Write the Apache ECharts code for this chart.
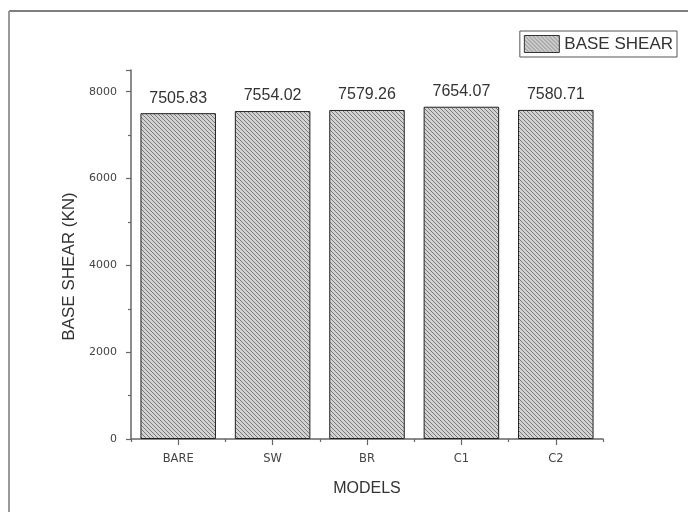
<!DOCTYPE html>
<html>
<head>
<meta charset="utf-8">
<script src="https://cdn.jsdelivr.net/npm/echarts@6/dist/echarts.min.js"></script>
<style>
html,body{margin:0;padding:0;background:#fff;}
#c{width:688px;height:512px;}
</style>
</head>
<body>
<div id="c"></div>
<script>
const categories = ['BARE', 'SW', 'BR', 'C1', 'C2'];
const baseShear = [7505.83, 7554.02, 7579.26, 7654.07, 7580.71];
const seriesName = 'BASE SHEAR';
const yTitle = 'BASE SHEAR (KN)';
const xTitle = 'MODELS';

function makeHatch() {
  const cv = document.createElement('canvas');
  cv.width = 4; cv.height = 4;
  const ctx = cv.getContext('2d');
  ctx.fillStyle = '#d2d2d2';
  ctx.fillRect(0, 0, 4, 4);
  ctx.fillStyle = '#7a7a7a';
  for (let i = 0; i < 4; i++) ctx.fillRect(i, i, 1, 1);
  return cv;
}
const hatch = { image: makeHatch(), repeat: 'repeat' };
const FONT = 'Liberation Sans';

const chart = echarts.init(document.getElementById('c'), null, { renderer: 'canvas' });
chart.setOption({
  backgroundColor: '#ffffff',
  animation: false,
  textStyle: { fontFamily: FONT },
  graphic: [
    { type: 'line', shape: { x1: 9, y1: 11, x2: 688, y2: 11 }, style: { stroke: '#555', lineWidth: 1.5 } },
    { type: 'line', shape: { x1: 9, y1: 11, x2: 9, y2: 512 }, style: { stroke: '#9a9a9a', lineWidth: 2 } }
  ],
  legend: {
    data: [seriesName],
    right: 11,
    top: 31,
    orient: 'horizontal',
    borderColor: '#555',
    borderWidth: 1,
    padding: [4, 4, 4, 4],
    itemWidth: 35,
    itemHeight: 17,
    itemGap: 5,
    icon: 'rect',
    itemStyle: { borderWidth: 1, borderColor: '#333' },
    textStyle: { fontSize: 17, color: '#333', fontFamily: FONT }
  },
  grid: { left: 131, right: 85, top: 70, bottom: 73, containLabel: false },
  xAxis: [
    {
      type: 'category',
      data: categories,
      boundaryGap: true,
      name: xTitle,
      nameLocation: 'middle',
      nameGap: 42,
      nameTextStyle: { fontSize: 16, color: '#333', fontFamily: FONT },
      axisLine: { show: true, lineStyle: { color: '#666', width: 1.5 } },
      axisTick: { show: true, alignWithLabel: true, length: 6, lineStyle: { color: '#666', width: 1.2 } },
      axisLabel: { margin: 14, fontSize: 11.5, color: '#444', fontFamily: 'DejaVu Sans' },
      splitLine: { show: false }
    },
    {
      type: 'category',
      data: categories,
      position: 'bottom',
      boundaryGap: true,
      axisLine: { show: false },
      axisTick: { show: true, alignWithLabel: false, length: 3, lineStyle: { color: '#666', width: 1.2 } },
      axisLabel: { show: false },
      splitLine: { show: false }
    }
  ],
  yAxis: {
    type: 'value',
    min: 0,
    max: 8500,
    interval: 2000,
    name: yTitle,
    nameLocation: 'middle',
    nameGap: 51,
    nameTextStyle: { fontSize: 17, color: '#333', fontFamily: FONT, padding: [0, 24, 0, 0] },
    axisLine: { show: true, lineStyle: { color: '#666', width: 1.5 } },
    axisTick: { show: true, inside: false, length: 5, lineStyle: { color: '#666', width: 1.2 } },
    minorTick: { show: true, splitNumber: 2, length: 3, lineStyle: { color: '#666', width: 1.2 } },
    axisLabel: {
      margin: 14, fontSize: 11, color: '#444', fontFamily: 'DejaVu Sans', showMaxLabel: false,
      formatter: v => String(v)
    },
    splitLine: { show: false },
    minorSplitLine: { show: false }
  },
  series: [
    {
      name: seriesName,
      type: 'bar',
      xAxisIndex: 0,
      data: baseShear,
      barWidth: '80%',
      itemStyle: { color: hatch, borderColor: '#222', borderWidth: 1 },
      label: {
        show: true,
        position: 'top',
        distance: 7,
        fontSize: 16,
        color: '#333',
        fontFamily: FONT,
        formatter: p => p.value.toFixed(2)
      }
    }
  ]
});
</script>
</body>
</html>
